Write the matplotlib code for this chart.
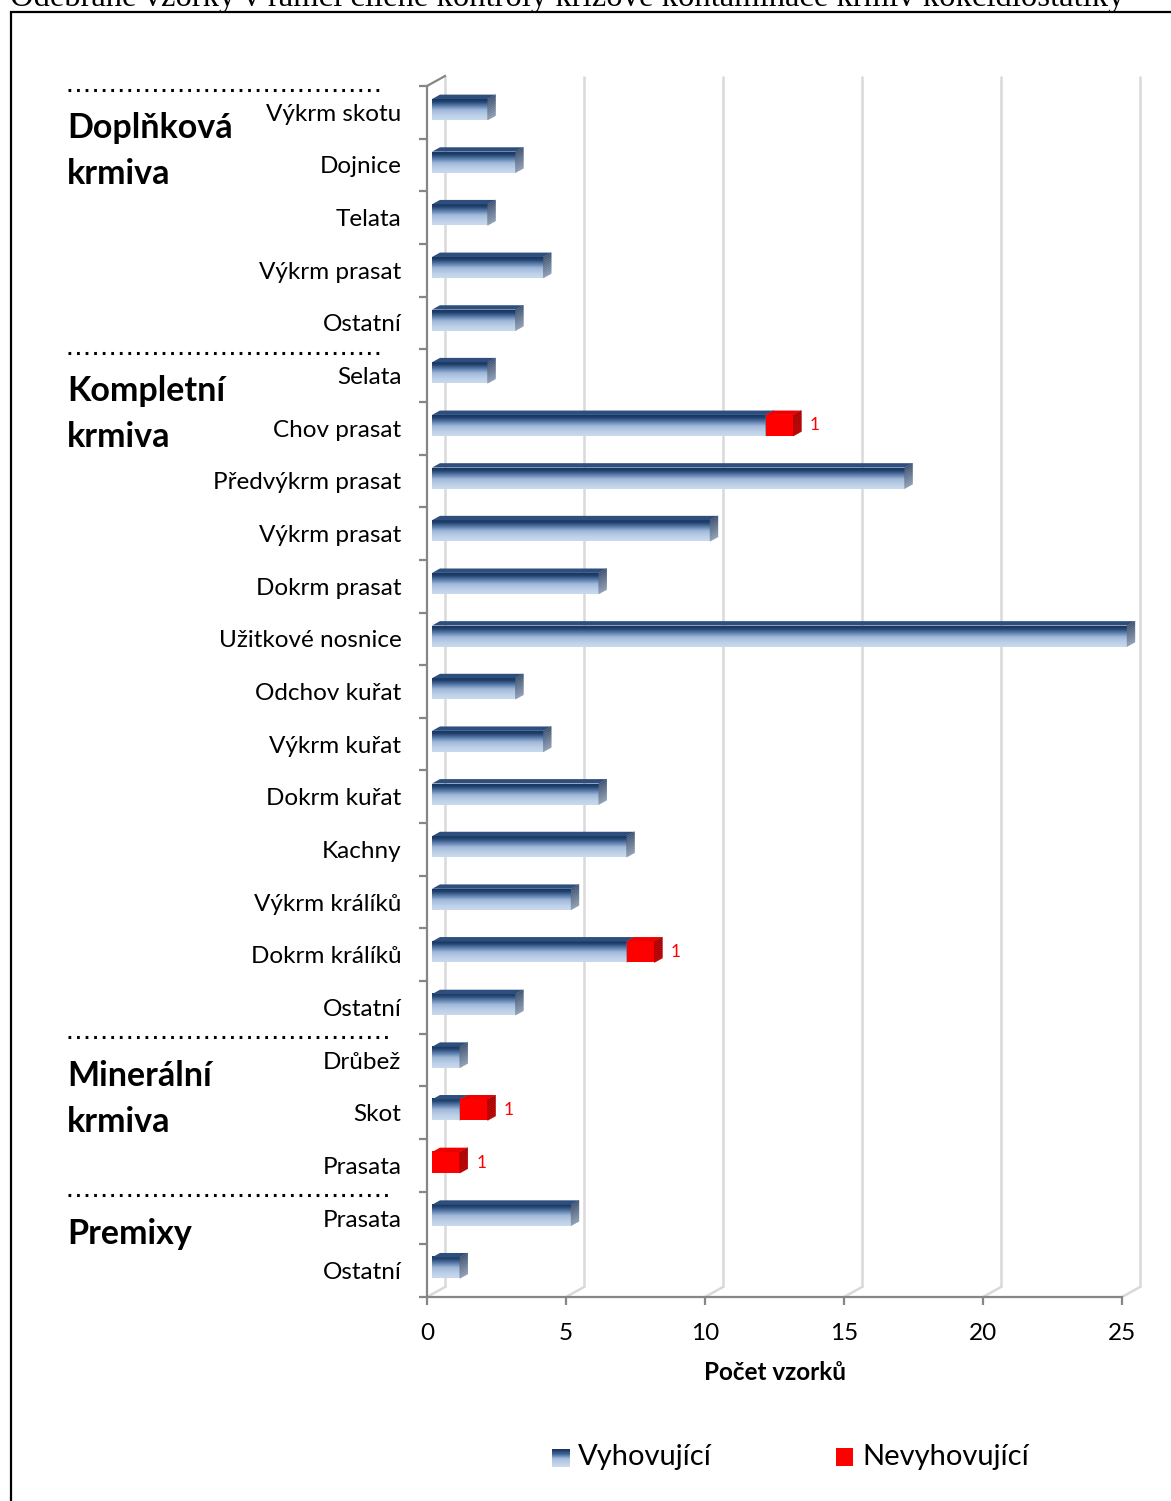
import numpy as np
import matplotlib
matplotlib.use("Agg")
import matplotlib.pyplot as plt
from matplotlib.colors import LinearSegmentedColormap
from matplotlib.patches import Polygon, Rectangle
from matplotlib.lines import Line2D
import matplotlib.transforms as mtransforms

# ---- data -------------------------------------------------------------
categories = [
    "Výkrm skotu", "Dojnice", "Telata", "Výkrm prasat", "Ostatní",
    "Selata", "Chov prasat", "Předvýkrm prasat", "Výkrm prasat", "Dokrm prasat",
    "Užitkové nosnice", "Odchov kuřat", "Výkrm kuřat", "Dokrm kuřat", "Kachny",
    "Výkrm králíků", "Dokrm králíků", "Ostatní",
    "Drůbež", "Skot", "Prasata",
    "Prasata", "Ostatní",
]
vyhovujici = [2, 3, 2, 4, 3,
              2, 12, 17, 10, 6, 25, 3, 4, 6, 7, 5, 7, 3,
              1, 1, 0,
              5, 1]
nevyhovujici = [0, 0, 0, 0, 0,
                0, 1, 0, 0, 0, 0, 0, 0, 0, 0, 0, 1, 0,
                0, 1, 1,
                0, 0]
groups = ["Doplňková\nkrmiva", "Kompletní\nkrmiva", "Minerální\nkrmiva", "Premixy"]
group_start = [0, 5, 18, 21]
xticks = [0, 5, 10, 15, 20, 25]
title = "Odebrané vzorky v rámci cílené kontroly křížové kontaminace krmiv kokcidiostatiky"
xlabel = "Počet vzorků"
legend_labels = ["Vyhovující", "Nevyhovující"]

FONT = ["Lato", "DejaVu Sans"]
plt.rcParams["font.family"] = FONT

W, H = 1171, 1501
fig = plt.figure(figsize=(W / 100, H / 100), dpi=100)


def fx(px):
    return px / W


def fy(py):
    return 1 - py / H


# plot area (front plane of the 3-D box)
x_left, x_right = 427, 1122
y_top, y_bot = 86, 1297
ax = fig.add_axes([fx(x_left), fy(y_bot), fx(x_right - x_left), (y_bot - y_top) / H])
n = len(categories)
xmax = 25

px_per_unit = (x_right - x_left) / xmax
px_per_row = (y_bot - y_top) / n

# 3-D depth vector (data units) and bar placement inside the depth
DX = 18 / px_per_unit
DY = -10 / px_per_row
F0, F1 = 0.28, 0.72
BAR_H = 21 / px_per_row

axis_col = "#868686"
grid_col = "#d9d9d9"

# ---- walls / grid -----------------------------------------------------
ytop_edge, ybot_edge = -0.5, n - 0.5
for xv in xticks:
    ax.plot([xv + DX, xv + DX], [ytop_edge + DY, ybot_edge + DY], color=grid_col,
            lw=1.8, zorder=1, clip_on=False, solid_capstyle="butt")
    ax.plot([xv, xv + DX], [ybot_edge, ybot_edge + DY], color=grid_col,
            lw=1.8, zorder=1, clip_on=False)
ax.plot([0, DX], [ytop_edge, ytop_edge + DY], color=axis_col, lw=1.6,
        zorder=2, clip_on=False)

# ---- bars -------------------------------------------------------------
blue_front = LinearSegmentedColormap.from_list(
    "bf", [(0.0, "#17365f"), (0.12, "#22436f"), (0.33, "#5e80ae"),
           (0.52, "#a0b8d9"), (0.8, "#bed1e8"), (1.0, "#cad9ed")])
blue_side = LinearSegmentedColormap.from_list("bs", ["#405472", "#8e9db3"])
red_front = LinearSegmentedColormap.from_list("rf", ["#ff0000", "#ff0000"])
red_side = LinearSegmentedColormap.from_list("rs", ["#a80000", "#b80000"])
grad = np.linspace(0, 1, 64).reshape(-1, 1)
SIDE_BANDS = 10


def draw_box(x0, x1, row, front_cmap, top_color, side_cmap, z):
    yc = row + F0 * DY
    yt, yb = yc - BAR_H / 2, yc + BAR_H / 2
    d = (F1 - F0)
    # front face
    ax.imshow(grad, extent=(x0 + F0 * DX, x1 + F0 * DX, yb, yt), origin="upper",
              aspect="auto", cmap=front_cmap, interpolation="bilinear",
              zorder=z, clip_on=False)
    # top face
    ax.add_patch(Polygon([(x0 + F0 * DX, yt), (x1 + F0 * DX, yt),
                          (x1 + F1 * DX, yt + d * DY), (x0 + F1 * DX, yt + d * DY)],
                         closed=True, facecolor=top_color, edgecolor="none",
                         zorder=z, clip_on=False))
    # right side face, shaded in horizontal bands
    xa, xb = x1 + F0 * DX, x1 + F1 * DX
    for k in range(SIDE_BANDS):
        t0, t1 = k / SIDE_BANDS, (k + 1) / SIDE_BANDS
        ya0, ya1 = yt + t0 * BAR_H, yt + t1 * BAR_H
        c = side_cmap((t0 + t1) / 2)
        ax.add_patch(Polygon([(xa, ya0), (xb, ya0 + d * DY), (xb, ya1 + d * DY),
                              (xa, ya1)], closed=True, facecolor=c, edgecolor=c,
                             lw=0.3, zorder=z + 0.1, clip_on=False))


for i, (ok, bad) in enumerate(zip(vyhovujici, nevyhovujici)):
    if ok > 0:
        draw_box(0, ok, i, blue_front, "#2e4f7e", blue_side, 3)
    if bad > 0:
        draw_box(ok, ok + bad, i, red_front, "#ee0000", red_side, 4)
        ax.text(ok + bad + 0.95, i + F0 * DY, f"{bad}", color="#ff0000",
                fontsize=12.5, ha="center", va="center", zorder=5)

# ---- axes -------------------------------------------------------------
ax.set_xlim(0, xmax)
ax.set_ylim(ybot_edge, ytop_edge)
for s in ["top", "right"]:
    ax.spines[s].set_visible(False)
for s in ["left", "bottom"]:
    ax.spines[s].set_color(axis_col)
    ax.spines[s].set_linewidth(1.6)
    ax.spines[s].set_zorder(2)

ax.set_xticks(xticks)
ax.set_xticklabels([str(t) for t in xticks])
ax.tick_params(axis="x", length=5.8, width=1.6, color=axis_col, pad=13,
               labelsize=17.5)
ax.set_yticks(range(n))
ax.set_yticklabels(categories)
ax.tick_params(axis="y", which="major", length=0, pad=18.5, labelsize=17.5)
ax.set_yticks(np.arange(-0.5, n, 1.0), minor=True)
ax.tick_params(axis="y", which="minor", length=5.8, width=1.6, color=axis_col)
ax.set_xlabel(xlabel, fontsize=17.5, fontweight="bold", labelpad=12)

# ---- group labels with dotted separators ------------------------------
blend = mtransforms.blended_transform_factory(fig.transFigure, ax.transData)
sep_right = [383, 383, 390, 390]
for g, start, xr in zip(groups, group_start, sep_right):
    for k, line in enumerate(g.split("\n")):
        fig.text(fx(67), start + 0.3 + k * 46 / px_per_row, line, transform=blend,
                 fontsize=24.5, fontweight="bold", ha="left", va="center")
    ysep = start - 0.5 + 0.07
    fig.add_artist(Line2D([fx(68), fx(xr)], [ysep, ysep], transform=blend,
                          color="black", lw=2.2, linestyle=(0, (0.9, 1.9)),
                          dash_capstyle="butt"))

# ---- legend -----------------------------------------------------------
sq = 18
lx, ly = 552, 1449
nstr = 16
for k in range(nstr):
    c = blue_front(k / (nstr - 1))
    fig.add_artist(Rectangle((fx(lx), fy(ly + (k + 1) * sq / nstr)), fx(sq),
                             sq / nstr / H, transform=fig.transFigure,
                             facecolor=c, edgecolor="none"))
fig.text(fx(578), fy(1457), legend_labels[0], fontsize=21, ha="left", va="center")
fig.add_artist(Rectangle((fx(836), fy(1448 + sq)), fx(17), sq / H,
                         transform=fig.transFigure, facecolor="#ff0000",
                         edgecolor="none"))
fig.text(fx(862), fy(1457), legend_labels[1], fontsize=21, ha="left", va="center")

# ---- page frame and heading running off the page top ------------------
fig.add_artist(Rectangle((fx(11), fy(1600)), fx(1300), (1600 - 12) / H,
                         transform=fig.transFigure, facecolor="none",
                         edgecolor="black", lw=1.6))
fig.text(fx(10), fy(6), title, fontsize=23.5, family="Liberation Serif",
         ha="left", va="baseline")

fig.savefig("out.png", dpi=100, facecolor="white")
